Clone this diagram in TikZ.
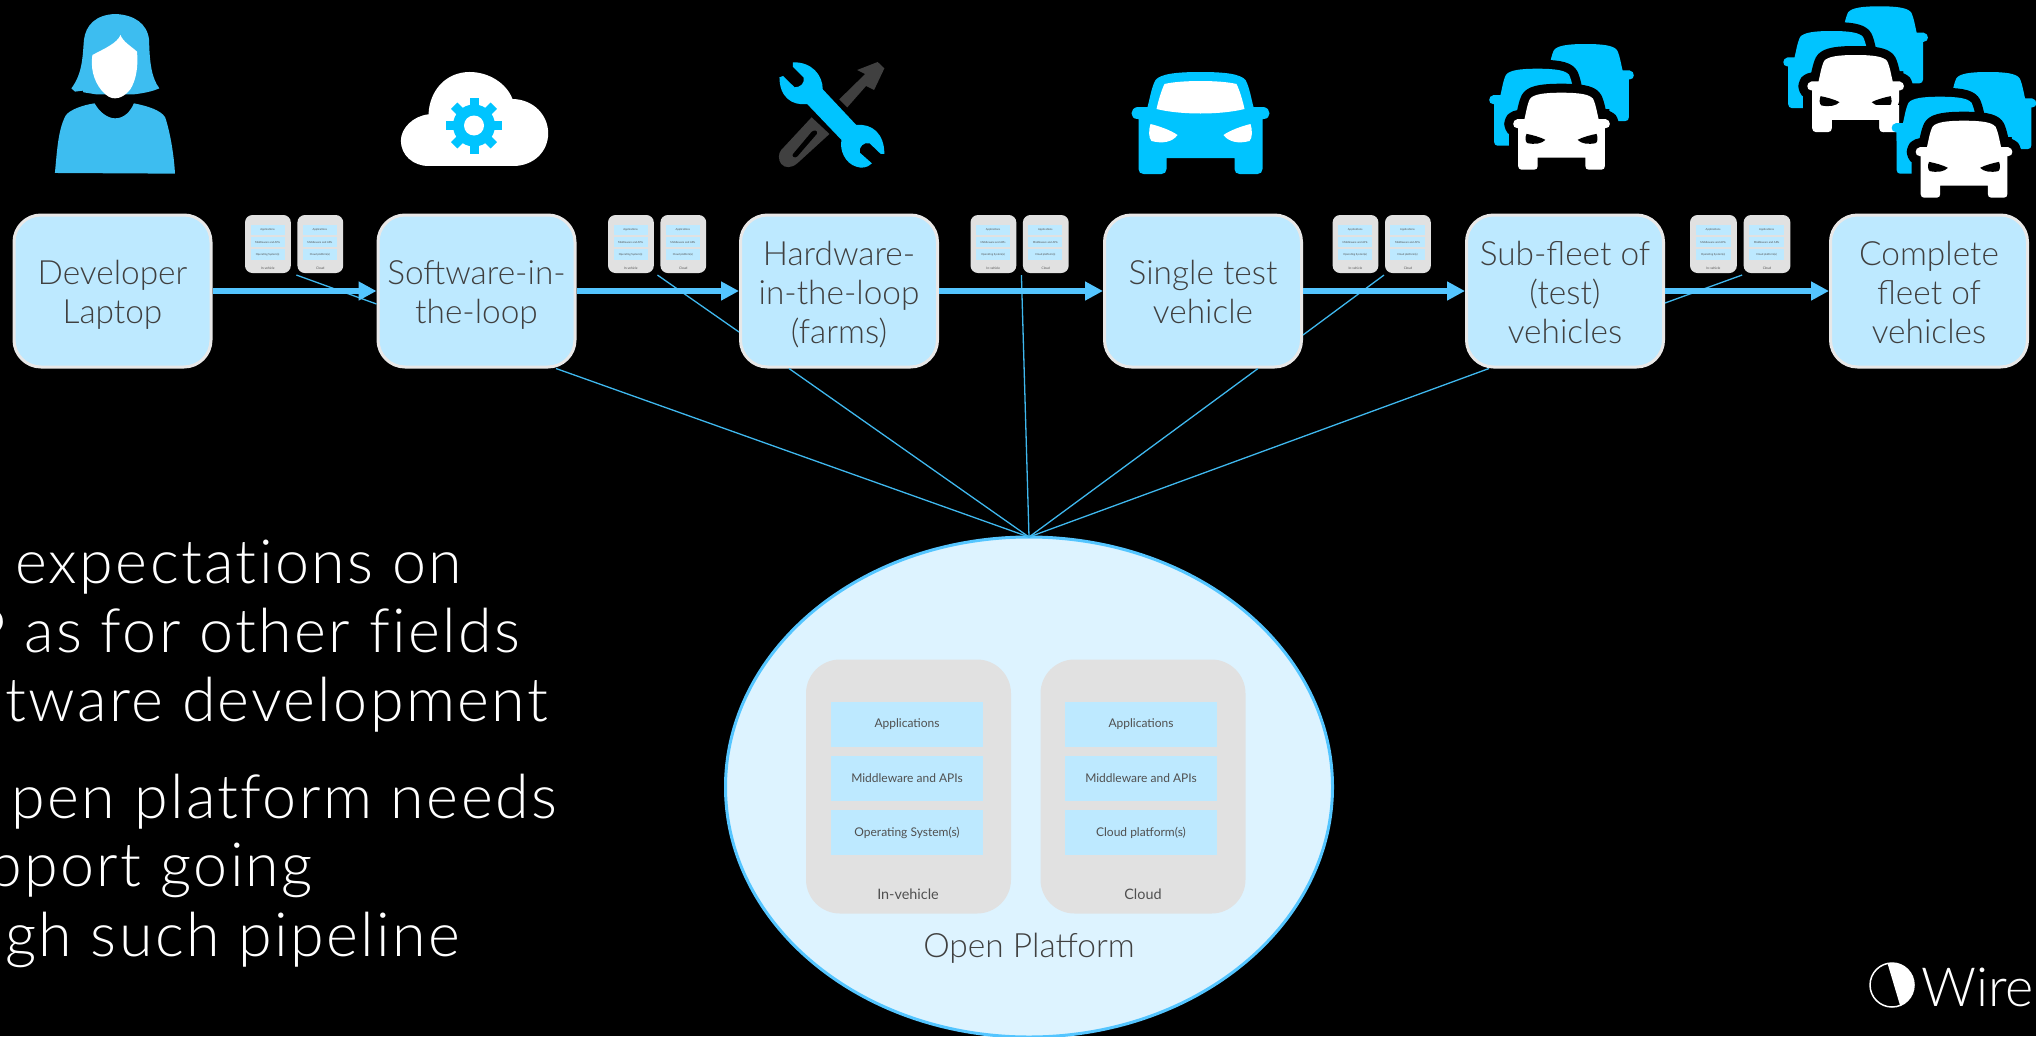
\documentclass[tikz,border=0pt]{standalone}
\usepackage{fontspec}
\setmainfont[UprightFont={* Light},BoldFont={* Regular}]{Lato}
\newfontfamily\widelight[UprightFont={* Light},LetterSpace=3.8,Ligatures=NoCommon]{Lato}
\usetikzlibrary{arrows.meta,shapes.geometric,calc}
\definecolor{boxfill}{HTML}{BDE9FF}
\definecolor{boxedge}{HTML}{E8E8E8}
\definecolor{inktxt}{HTML}{404040}
\definecolor{smalltxt}{HTML}{505050}
\definecolor{flowblue}{HTML}{54C5FF}
\definecolor{thinblue}{HTML}{3FB8EE}
\definecolor{platfill}{HTML}{DDF3FF}
\definecolor{phonegray}{HTML}{E1E1E1}
\definecolor{iconblue}{HTML}{00C4FF}
\definecolor{personblue}{HTML}{3DBDF0}
\definecolor{tool}{HTML}{404040}
\newcommand\topstrut{\rule{0pt}{34pt}}
\tikzset{
  stagebox/.style={draw=boxedge,line width=3pt,fill=boxfill,rounded corners=27pt,minimum width=197pt,minimum height=152pt,inner sep=0pt,outer sep=1.5pt,align=center,text=inktxt,font=\fontsize{33.4}{39}\selectfont,execute at end node={\rule[-8pt]{0pt}{8pt}}},
  flowline/.style={draw=flowblue,line width=6pt,-{Triangle[length=18pt,width=18pt,fill=flowblue]}},
  thinline/.style={draw=thinblue,line width=1.3pt},
  phonebox/.style={fill=phonegray,minimum width=205pt,minimum height=254pt,inner sep=0pt,outer sep=0pt,transform shape},
  layerbox/.style={fill=boxfill,minimum width=152.5pt,minimum height=45pt,inner sep=0pt,outer sep=0pt,text=smalltxt,font=\fontsize{12}{15}\bfseries\selectfont,transform shape},
  phonelabel/.style={text=smalltxt,inner sep=0pt,font=\fontsize{14.4}{18}\bfseries\selectfont,transform shape},
  bodytext/.style={text=white,anchor=base east,inner sep=0pt,font=\widelight\fontsize{61}{70}\selectfont},
}
% prefix, x, y, xscale, yscale, corner radius
\newcommand\platformpair[6]{%
  \begin{scope}[shift={(#2,#3)},xscale=#4,yscale=#5]
    \node[phonebox,rounded corners=#6] (#1L) at (102.5,127) {};
    \node[phonebox,rounded corners=#6] (#1R) at (337,127) {};
    \node[layerbox] (#1La) at (101,64.5) {Applications};
    \node[layerbox] (#1Lb) at (101,119) {Middleware and APIs};
    \node[layerbox] (#1Lc) at (101,173) {Operating System(s)};
    \node[phonelabel] (#1Ld) at (102,235) {In-vehicle};
    \node[layerbox] (#1Ra) at (335,64.5) {Applications};
    \node[layerbox] (#1Rb) at (335,119) {Middleware and APIs};
    \node[layerbox] (#1Rc) at (335,173) {Cloud platform(s)};
    \node[phonelabel] (#1Rd) at (337,235) {Cloud};
  \end{scope}}
\def\carpath{(0,0) .. controls (25,0) and (40,2) .. (45,8) .. controls (49,15) and (51,28) .. (53,35) -- (63,35) .. controls (71,36) and (71,47) .. (63,47) -- (62,47) -- (62,97) .. controls (62,100) and (60,102) .. (57,102) -- (39,102) .. controls (36,102) and (34,100) .. (34,97) -- (34,86) -- (-34,86) -- (-34,97) .. controls (-34,100) and (-36,102) .. (-39,102) -- (-57,102) .. controls (-60,102) and (-62,100) .. (-62,97) -- (-62,47) -- (-63,47) .. controls (-71,47) and (-71,36) .. (-63,35) -- (-53,35) .. controls (-51,28) and (-49,15) .. (-45,8) .. controls (-40,2) and (-25,0) .. (0,0) -- cycle}
\def\lightR{(23,63) .. controls (30,58) and (42,54) .. (50,52) .. controls (52,58) and (52,66) .. (49,69) .. controls (38,72) and (28,70) .. (23,63) -- cycle}
\def\lightL{(-23,63) .. controls (-30,58) and (-42,54) .. (-50,52) .. controls (-52,58) and (-52,66) .. (-49,69) .. controls (-38,72) and (-28,70) .. (-23,63) -- cycle}
\newcommand\haloedcar[4]{% x y body lights
  \begin{scope}[shift={(#1,#2)},xscale=.7,yscale=.755]
    \path[draw=black,line width=18pt,line join=round] \carpath;
    \path[fill=#3] \carpath;
    \ifx#4\relax\else
    \begin{scope}[shift={(0,61)},yscale=.72,shift={(0,-61)}]
      \path[fill=#4] \lightR; \path[fill=#4] \lightL;
    \end{scope}
    \fi
  \end{scope}}
\newcommand\plaincar[3]{% x y body
  \begin{scope}[shift={(#1,#2)},xscale=.7,yscale=.755]
    \path[fill=#3] \carpath;
  \end{scope}}
\newcommand\carcluster[2]{%
  \haloedcar{#1+24}{#2-48.7}{iconblue}{\relax}
  \haloedcar{#1-24}{#2-24}{iconblue}{\relax}
  \haloedcar{#1}{#2}{white}{black}}
\begin{document}
\begin{tikzpicture}[x=1pt,y=-1pt]
\useasboundingbox (0,0) rectangle (2036,1036);
\fill[black] (0,0) rectangle (2036,1036);
\begin{scope}
\clip (0,0) rectangle (2036,1036);

% ---- body text
\node[bodytext] (t1) at (462,583) {expectations on};
\node[bodytext] (t2) at (520,652) {P as for other fields};
\node[bodytext] (t3) at (548,721) {tware development};
\node[bodytext] (t4) at (557,818) {pen platform needs};
\node[bodytext] (t5) at (313,886) {pport going};
\node[bodytext] (t6) at (460,956) {gh such pipeline};

% ---- platform
\node[ellipse,draw=flowblue,line width=3pt,fill=platfill,minimum width=607pt,minimum height=500pt,inner sep=0pt,outer sep=0pt] (plat) at (1029,787) {};
\platformpair{big}{806}{659.5}{1}{1}{34pt}
\node[text=inktxt,inner sep=0pt,font=\fontsize{33.5}{38}\selectfont] (plattxt) at (1029,948) {Open Platform};

% ---- small platforms
\platformpair{pa}{245}{215}{.2235}{.2285}{7.5pt}
\platformpair{pb}{608}{215}{.2235}{.2285}{7.5pt}
\platformpair{pc}{970.5}{215}{.2235}{.2285}{7.5pt}
\platformpair{pd}{1332.6}{215}{.2235}{.2285}{7.5pt}
\platformpair{pe}{1690}{215}{.2285}{.2285}{7.5pt}

% ---- stages
\node[stagebox] (b1) at (112.5,291) {\topstrut Developer\\Laptop};
\node[stagebox] (b2) at (476.5,291) {\topstrut Software-in-\\the-loop};
\node[stagebox] (b3) at (839,291) {\topstrut Hardware-\\in-the-loop\\(farms)};
\node[stagebox] (b4) at (1203,291) {\topstrut Single test\\vehicle};
\node[stagebox] (b5) at (1565,291) {\topstrut Sub-fleet of\\(test)\\vehicles};
\node[stagebox] (b6) at (1929,291) {\topstrut Complete\\fleet of\\vehicles};

% ---- thin connectors
\coordinate (e2) at ($(b2.south)+(79.5,0)$);
\coordinate (e3) at ($(b3.south)+(-50,0)$);
\coordinate (e4) at ($(b4.south)+(55,0)$);
\coordinate (e5) at ($(b5.south)+(-76,0)$);
\coordinate (pc0) at ($(pcR.south west)+(-1.5,2)$);
\draw[thinline] (plat.north) -- (e2);
\draw[thinline] (plat.north) -- (e3);
\draw[thinline] (plat.north) -- (pc0);
\draw[thinline] (plat.north) -- (e4);
\draw[thinline] (plat.north) -- (e5);
\coordinate (pa0) at ($(paR.south west)+(-1,2)$);
\coordinate (pb0) at ($(pbR.south west)+(-3,2)$);
\coordinate (pd0) at ($(pdR.south west)+(-1,2)$);
\coordinate (pe0) at ($(peR.south west)+(-1.5,2)$);
\draw[thinline] (pa0) -- ($(b2.west)+(0,13)$);
\draw[thinline] (pb0) -- ($(b3.west)+(0,41)$);
\draw[thinline] (pd0) -- ($(b4.east)+(0,44)$);
\draw[thinline] (pe0) -- ($(b5.east)+(0,12)$);

% ---- flow arrows
\draw[flowline] (b1.east) -- (b2.west);
\draw[flowline] (b2.east) -- (b3.west);
\draw[flowline] (b3.east) -- (b4.west);
\draw[flowline] (b4.east) -- (b5.west);
\draw[flowline] (b5.east) -- (b6.west);

% ---- person
\begin{scope}[xscale=.4464,yscale=.3333]
  \fill[personblue] (258,42) .. controls (215,44) and (192,75) .. (188,120) .. controls (185,170) and (185,220) .. (160,265) -- (168,275) -- (185,272) -- (187,277) -- (215,283) -- (300,283) .. controls (320,280) and (340,275) .. (357,265) .. controls (340,235) and (335,190) .. (334,120) .. controls (330,70) and (300,44) .. (258,42) -- cycle;
  \fill[white] (270,105) .. controls (262,130) and (235,145) .. (207,165) .. controls (203,200) and (208,240) .. (228,272) .. controls (240,290) and (248,295) .. (258,295) .. controls (270,295) and (282,285) .. (292,268) .. controls (305,240) and (310,200) .. (307,155) .. controls (295,140) and (275,125) .. (270,105) -- cycle;
  \fill[personblue] (212,310) .. controls (222,335) and (240,355) .. (258,355) .. controls (278,355) and (292,335) .. (300,310) .. controls (330,318) and (360,330) .. (370,352) .. controls (382,400) and (390,470) .. (392,521) -- (123,519) .. controls (128,450) and (130,390) .. (147,347) .. controls (155,330) and (185,315) .. (212,310) -- cycle;
  % ---- cloud
  \fill[white] (960,498) .. controls (925,498) and (898,465) .. (898,422) .. controls (898,385) and (925,348) .. (960,343) .. controls (962,270) and (1000,216) .. (1052,216) .. controls (1095,216) and (1135,250) .. (1148,297) .. controls (1195,298) and (1228,345) .. (1228,400) .. controls (1228,455) and (1195,498) .. (1150,498) -- cycle;
\end{scope}
\begin{scope}[shift={(474,125.5)}]
  \fill[iconblue] (0,0) circle (21);
  \foreach \a in {0,45,...,315}
    \fill[iconblue,rotate=\a] (-4.5,-28) rectangle (4.5,-15);
  \fill[white] (0,0) circle (10);
\end{scope}

% ---- tools
\begin{scope}[shift={(700,0)},xscale=.4464,yscale=.3333]
  \fill[tool] (312,298) -- (370,222) -- (352,210) -- (398,186) -- (413,205) -- (390,270) -- (372,258) -- (330,322) -- cycle;
  \fill[tool,even odd rule] (250,352) -- (290,402) -- (218,490) .. controls (205,505) and (190,505) .. (182,492) .. controls (175,480) and (175,460) .. (182,450) -- cycle
    (208,462) -- (250,395) .. controls (256,388) and (266,392) .. (262,402) -- (218,470) .. controls (212,476) and (204,470) .. (208,462) -- cycle;
  \fill[iconblue] (208,187) .. controls (250,185) and (275,225) .. (275,268) -- (350,375) .. controls (385,370) and (413,400) .. (413,462) -- (405,462) -- (380,430) .. controls (368,425) and (355,440) .. (358,458) -- (385,490) .. controls (375,505) and (360,505) .. (350,500) .. controls (325,490) and (312,450) .. (317,420) -- (240,312) .. controls (205,318) and (178,290) .. (178,232) -- (186,228) -- (212,262) .. controls (225,262) and (235,250) .. (232,232) -- (208,200) -- cycle;
\end{scope}

% ---- single car
\begin{scope}[shift={(1200.5,72)}]
  \fill[iconblue] \carpath;
  \fill[white] \lightR;
  \fill[white] \lightL;
  \fill[white] (-36,12) .. controls (-20,8) and (20,8) .. (36,12) .. controls (39,18) and (42,28) .. (44,37) .. controls (20,43) and (-20,43) .. (-44,37) .. controls (-42,28) and (-39,18) .. (-36,12) -- cycle;
\end{scope}

% ---- clusters
\carcluster{1561.5}{92.7}
\carcluster{1855.6}{55}
\carcluster{1964}{120.7}
\begin{scope}
  \clip (1870,105) rectangle (1903,140);
  \plaincar{1855.6}{55}{white}
  \plaincar{1940}{96.7}{iconblue}
\end{scope}

% ---- logo
\draw[white,line width=1.5pt] (1892,985) circle (22);
\begin{scope}
  \clip (1892,985) circle (22);
  \fill[white] (1885,955) -- (1902,1012) -- (1925,1012) -- (1925,955) -- cycle;
\end{scope}
\node[text=white,anchor=base west,inner sep=0pt,font=\fontsize{54}{60}\selectfont] (wire) at (1921,1006) {Wire};
\end{scope}
\end{tikzpicture}
\end{document}
